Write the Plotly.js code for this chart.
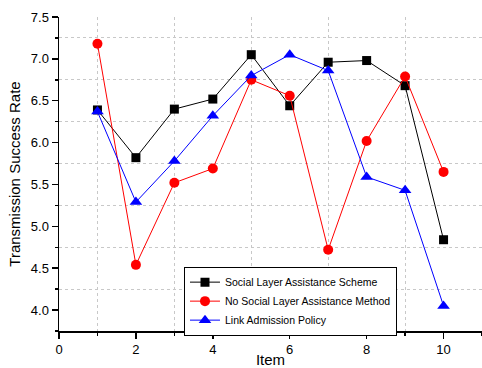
<!DOCTYPE html>
<html><head><meta charset="utf-8">
<script src="https://cdn.plot.ly/plotly-3.0.1.min.js"></script>
<style>body{margin:0;padding:0;background:#fff}#c{width:482px;height:368px}</style>
</head><body><div id="c"></div>
<script>
var items = [1,2,3,4,5,6,7,8,9,10];
var slas = [6.39,5.82,6.40,6.52,7.05,6.44,6.96,6.98,6.68,4.84];
var nslam = [7.18,4.54,5.52,5.69,6.75,6.56,4.72,6.02,6.79,5.65];
var lap = [6.37,5.29,5.78,6.32,6.80,7.05,6.86,5.59,5.43,4.05];
var names = ['Social Layer Assistance Scheme','No Social Layer Assistance Method','Link Admission Policy'];

var traces = [
 {x:items,y:slas,name:names[0],mode:'lines+markers',line:{color:'#000',width:1},marker:{symbol:'square',size:9,color:'#000'}},
 {x:items,y:nslam,name:names[1],mode:'lines+markers',line:{color:'#ff0000',width:1},marker:{symbol:'circle',size:10,color:'#ff0000'}},
 {x:items,y:lap,name:names[2],mode:'lines+markers',line:{color:'#0000ff',width:1},marker:{symbol:'triangle-up',size:11,color:'#0000ff'}}
];
var font = {family:'Liberation Sans, Arial, sans-serif',color:'#000'};
var layout = {
 width:482,height:368,margin:{l:59,r:0,t:17,b:37},
 paper_bgcolor:'#fff',plot_bgcolor:'#fff',font:font,showlegend:true,
 xaxis:{range:[0,11],tick0:0,dtick:2,showgrid:false,zeroline:false,showline:true,linecolor:'#000',linewidth:1.5,
   ticks:'outside',ticklen:6,tickwidth:1.5,tickcolor:'#000',tickfont:{size:13},
   minor:{dtick:1,ticks:'outside',ticklen:3,tickwidth:1.5,tickcolor:'#000',showgrid:true,gridcolor:'#c8c8c8',griddash:'dot',gridwidth:1},
   title:{text:'Item',font:{size:15},standoff:4}},
 yaxis:{range:[3.75,7.5],tick0:4,dtick:0.5,tickformat:'.1f',showgrid:false,zeroline:false,showline:true,linecolor:'#000',linewidth:1.5,
   ticks:'outside',ticklen:6,tickwidth:1.5,tickcolor:'#000',tickfont:{size:13},
   minor:{dtick:0.25,ticks:'outside',ticklen:3,tickwidth:1.5,tickcolor:'#000',showgrid:true,gridcolor:'#c8c8c8',griddash:'dot',gridwidth:1},
   title:{text:'Transmission Success Rate',font:{size:15},standoff:6}},
 legend:{x:0.2955,xanchor:'left',y:0.205,yanchor:'top',bgcolor:'#fff',bordercolor:'#000',borderwidth:1,
   font:{size:10.5},tracegroupgap:0,itemwidth:30}
};
Plotly.newPlot('c',traces,layout,{staticPlot:true});
</script></body></html>
